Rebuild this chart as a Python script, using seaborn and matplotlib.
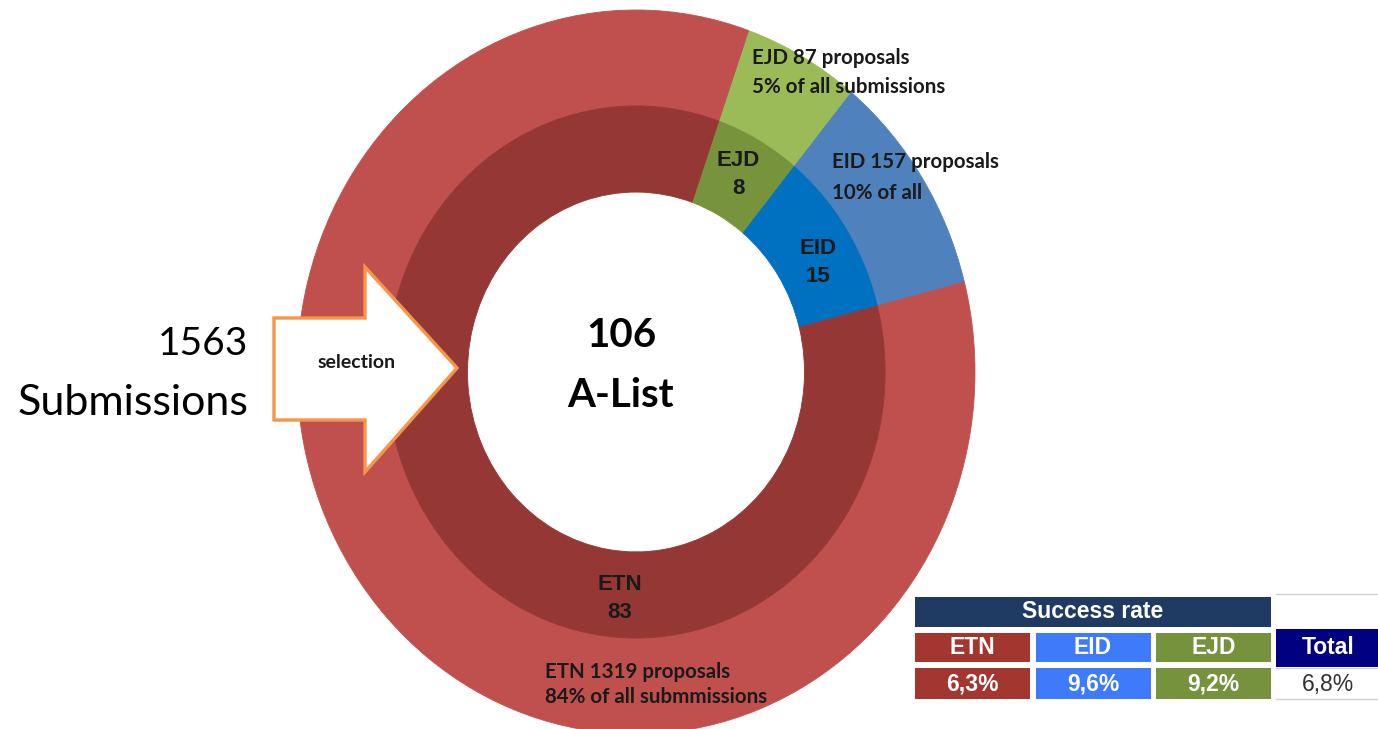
import matplotlib
matplotlib.use("Agg")
import matplotlib.pyplot as plt
import seaborn as sns
from matplotlib.patches import Polygon, Rectangle

# ---------------- data ----------------
categories = ["EJD", "EID", "ETN"]          # clockwise order in the rings
submissions = [87, 157, 1319]               # outer ring (all submissions)
alist = [8, 15, 83]                         # A-list selections
outer_texts = ["EJD 87 proposals\n5% of all submissions",
               "EID 157 proposals\n10% of all",
               "ETN 1319 proposals\n84% of all submmissions"]
table_order = ["ETN", "EID", "EJD"]
total_submissions = sum(submissions)
total_alist = sum(alist)

# ---------------- style ----------------
sns.set_theme(style="white")
plt.rcParams['font.family'] = ['Lato', 'DejaVu Sans']

outer_col = {"ETN": "#C0504D", "EID": "#4F81BD", "EJD": "#9BBB59"}
inner_col = {"ETN": "#953735", "EID": "#0070C0", "EJD": "#77933C"}
table_col = {"ETN": "#A3362F", "EID": "#3D7BFA", "EJD": "#76923C"}

W, H = 1378, 729
fig = plt.figure(figsize=(W / 100, H / 100), dpi=100)

# ---------------- donut ----------------
ax = fig.add_axes([0, 0, 1, 1])
cx, cy, rx, ry = 636, 372, 339, 362
r_mid, r_hole = 0.735, 0.497
ow, _ = ax.pie(submissions, radius=1.0, colors=[outer_col[c] for c in categories],
               startangle=70.6, counterclock=False,
               wedgeprops=dict(width=1.0 - r_mid, linewidth=0))
iw, _ = ax.pie(submissions, radius=r_mid, colors=[inner_col[c] for c in categories],
               startangle=70.6, counterclock=False,
               wedgeprops=dict(width=r_mid - r_hole, linewidth=0))
for w in list(ow) + list(iw):
    w.set_edgecolor(w.get_facecolor())
    w.set_linewidth(0.6)
ax.set_aspect('auto')
ax.set_xlim(-cx / rx, (W - cx) / rx)
ax.set_ylim(-(H - cy) / ry, cy / ry)
ax.axis('off')

# ---------------- overlay (pixel coordinates) ----------------
ov = fig.add_axes([0, 0, 1, 1])
ov.set_xlim(0, W)
ov.set_ylim(H, 0)
ov.axis('off')
ov.patch.set_alpha(0)

dark = "#1a1a1a"
lab_font = ['Lato', 'DejaVu Sans']
arial = ['Liberation Sans', 'DejaVu Sans']

# outer ring labels (x, first-line y, line gap)
outer_pos = {"EJD": (752, 58, 29), "EID": (832, 162, 31), "ETN": (545, 672, 25)}
for c, t in zip(categories, outer_texts):
    x, y, gap = outer_pos[c]
    for k, line in enumerate(t.split("\n")):
        ov.text(x, y + k * gap, line, ha='left', va='center', fontsize=14.8,
                fontweight='bold', color=dark, family=lab_font)

# inner ring labels
inner_pos = {"EJD": (738, 160), "EID": (818, 248), "ETN": (620, 585)}
for c, v in zip(categories, alist):
    x, y = inner_pos[c]
    ov.text(x, y, c, ha='center', va='center', fontsize=16,
            fontweight='bold', color=dark, family=arial)
    ov.text(x, y + 28, f"{v}", ha='center', va='center', fontsize=16,
            fontweight='bold', color=dark, family=arial)

# center text
ov.text(621, 335, f"{total_alist}", ha='center', va='center', fontsize=29,
        fontweight='bold', color='black', family=lab_font)
ov.text(621, 395, "A-List", ha='center', va='center', fontsize=29,
        fontweight='bold', color='black', family=lab_font)

# submissions text
ov.text(248, 344, f"{total_submissions}", ha='right', va='center', fontsize=28,
        color='black', family=lab_font)
ov.text(248, 403, "Submissions", ha='right', va='center', fontsize=31,
        color='black', family=lab_font)

# selection arrow
arrow = Polygon([(274, 318), (365, 318), (365, 267), (457, 368),
                 (365, 472), (365, 420), (274, 420)], closed=True,
                fc='white', ec='#F79646', lw=2.4, joinstyle='miter')
ov.add_patch(arrow)
ov.text(357, 362, "selection", ha='center', va='center', fontsize=14,
        fontweight='bold', color=dark, family=lab_font)

# ---------------- success-rate table ----------------
ov.add_patch(Rectangle((915, 597), 356, 30, fc='#1F3B63', ec='none'))
ov.text(1093, 612, "Success rate", ha='center', va='center', fontsize=16.5,
        fontweight='bold', color='white', family=arial)
rate = {c: a / s * 100 for c, a, s in zip(categories, alist, submissions)}
for i, c in enumerate(table_order):
    x0 = 915 + i * 120.5
    ov.add_patch(Rectangle((x0, 633), 115, 29, fc=table_col[c], ec='none'))
    ov.add_patch(Rectangle((x0, 668), 115, 31, fc=table_col[c], ec='none'))
    ov.text(x0 + 57.5, 648, c, ha='center', va='center', fontsize=16.5,
            fontweight='bold', color='white', family=arial)
    ov.text(x0 + 57.5, 684, f"{rate[c]:.1f}%".replace('.', ','), ha='center',
            va='center', fontsize=16.5, fontweight='bold', color='white', family=arial)

ov.add_patch(Rectangle((1276, 629), 110, 38, fc='#000080', ec='none'))
ov.text(1328, 648, "Total", ha='center', va='center', fontsize=16.5,
        fontweight='bold', color='white', family=arial)
total_rate = total_alist / total_submissions * 100
ov.text(1328, 684, f"{total_rate:.1f}%".replace('.', ','), ha='center', va='center',
        fontsize=16.5, color='#333333', family=arial)
for yy in (594, 668, 699):
    ov.plot([1276, W], [yy, yy], color='#d0d0d0', lw=1)

fig.savefig("out.png", dpi=100)
